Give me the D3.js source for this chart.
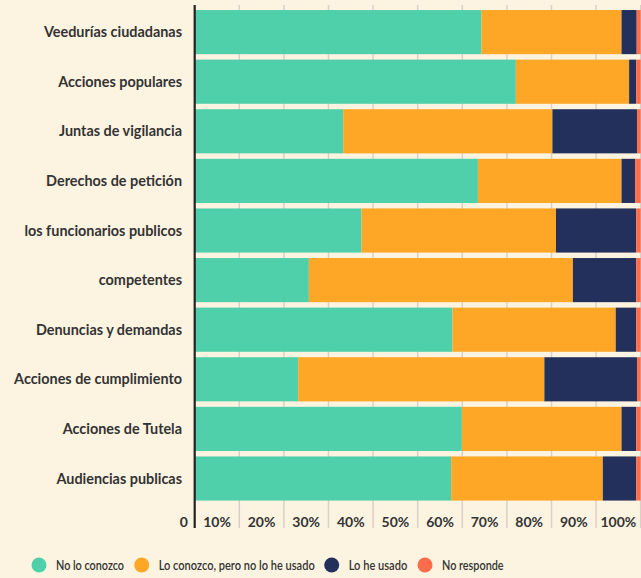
<!DOCTYPE html>
<html>
<head>
<meta charset="utf-8">
<script src="https://cdn.jsdelivr.net/npm/d3@7"></script>
<style>
  body { margin: 0; background: #fdf3e1; }
  svg { display: block; font-family: Lato, "Open Sans", sans-serif; }
</style>
</head>
<body>
<div id="chart"></div>
<script>
'use strict'

var width = 641
var height = 578

var categories = [
  'Veedurías ciudadanas',
  'Acciones populares',
  'Juntas de vigilancia',
  'Derechos de petición',
  'los funcionarios publicos',
  'competentes',
  'Denuncias y demandas',
  'Acciones de cumplimiento',
  'Acciones de Tutela ',
  'Audiencias publicas'
]
var seriesNames = ['No lo conozco', 'Lo conozco, pero no lo he usado', 'Lo he usado', 'No responde']
var colors = ['#4fd0aa', '#fea625', '#22305b', '#fe6d4b']

// percentages per category, same order as categories
var noLoConozco = [64.3, 72.0, 33.3, 63.5, 37.4, 25.6, 57.8, 23.2, 59.9, 57.5]
var conozcoNoUsado = [31.4, 25.4, 46.9, 32.2, 43.6, 59.2, 36.6, 55.2, 35.8, 34.0]
var loHeUsado = [3.4, 1.6, 19.0, 3.1, 18.0, 14.2, 4.6, 20.8, 3.3, 7.5]
var noResponde = [0.9, 1.0, 0.8, 1.2, 1.0, 1.0, 1.0, 0.8, 1.0, 1.0]

var ticks = [0, 10, 20, 30, 40, 50, 60, 70, 80, 90, 100]
var tickLabels = ['0', '10%', '20%', '30%', '40%', '50%', '60%', '70%', '80%', '90%', '100%']

var rows = categories.map(function (c, i) {
  return { cat: c, s0: noLoConozco[i], s1: conozcoNoUsado[i], s2: loHeUsado[i], s3: noResponde[i] }
})
var stack = d3.stack().keys(['s0', 's1', 's2', 's3'])(rows)

var svg = d3.select('#chart').append('svg')
  .attr('width', width)
  .attr('height', height)

svg.append('rect').attr('width', width).attr('height', height).attr('fill', '#fdf3e1')

var x = d3.scaleLinear().domain([0, 100]).range([194.7, 640.7])
var y = d3.scaleBand().domain(categories).range([7.3, 503.3])
  .paddingInner(0.11).paddingOuter(0.055)

// grid lines
svg.append('g')
  .selectAll('line')
  .data(ticks.slice(1))
  .join('line')
  .attr('x1', d => x(d))
  .attr('x2', d => x(d))
  .attr('y1', 5)
  .attr('y2', 528)
  .attr('stroke', '#d8d2c6')
  .attr('stroke-width', 1.5)

// bars
svg.append('g')
  .selectAll('g')
  .data(stack)
  .join('g')
  .attr('fill', (d, i) => colors[i])
  .selectAll('rect')
  .data(d => d)
  .join('rect')
  .attr('x', d => x(d[0]))
  .attr('width', d => x(d[1]) - x(d[0]))
  .attr('y', d => y(d.data.cat))
  .attr('height', y.bandwidth())

// axis line
svg.append('line')
  .attr('x1', x(0)).attr('x2', x(0))
  .attr('y1', 5).attr('y2', 528)
  .attr('stroke', '#222')
  .attr('stroke-width', 2.2)

// category labels
svg.append('g')
  .selectAll('text')
  .data(categories)
  .join('text')
  .attr('x', 182)
  .attr('y', d => y(d) + y.bandwidth() / 2)
  .attr('dy', '0.35em')
  .attr('text-anchor', 'end')
  .attr('font-size', 14.4)
  .attr('font-weight', 'bold')
  .attr('fill', '#333')
  .text(d => d)

// tick labels, centred in the band left of each tick
svg.append('g')
  .selectAll('text')
  .data(ticks)
  .join('text')
  .attr('x', (d, i) => i === 0 ? x(0) - 11 : x(d) - (x(10) - x(0)) / 2)
  .attr('y', 522)
  .attr('dy', '0.35em')
  .attr('text-anchor', 'middle')
  .attr('font-size', 14)
  .attr('font-weight', 'bold')
  .attr('fill', '#333')
  .text((d, i) => tickLabels[i])

// legend (condensed text, fitted to the original widths)
var legendX = [39, 141.7, 331.7, 425]
var legendW = [68, 156, 58.6, 61.6]
var legend = svg.append('g')
  .selectAll('g')
  .data(seriesNames)
  .join('g')
  .attr('transform', (d, i) => 'translate(' + legendX[i] + ',565)')

legend.append('circle')
  .attr('r', 7.5)
  .attr('fill', (d, i) => colors[i])

legend.append('text')
  .attr('x', 17)
  .attr('dy', '0.35em')
  .attr('font-size', 13)
  .attr('font-weight', 600)
  .attr('fill', '#333')
  .attr('textLength', (d, i) => legendW[i])
  .attr('lengthAdjust', 'spacingAndGlyphs')
  .text(d => d)
</script>
</body>
</html>
